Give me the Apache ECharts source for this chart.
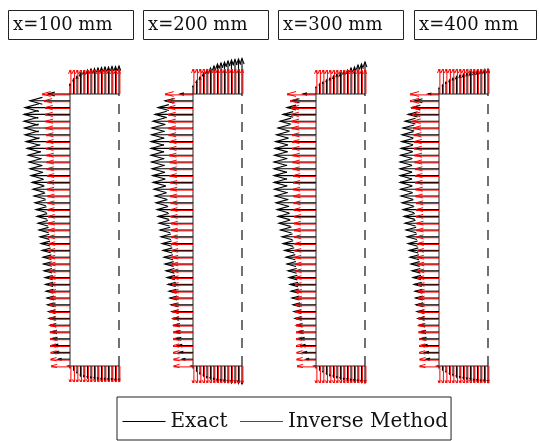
<!DOCTYPE html>
<html>
<head>
<meta charset="utf-8">
<script src="https://cdn.jsdelivr.net/npm/echarts@6/dist/echarts.min.js"></script>
<style>
  html, body { margin: 0; padding: 0; background: #ffffff; }
  #chart { width: 539px; height: 441px; }
</style>
</head>
<body>
<div id="chart"></div>
<script>
// Cross-section stations along the beam
const stations = ['x=100 mm', 'x=200 mm', 'x=300 mm', 'x=400 mm'];

// Section outline (units match the arrow scale)
const webHeight = 272;
const flangeWidth = 49;
const webCount = 41;     // arrows along the web, top to bottom
const flangeCount = 15;  // arrows along each flange, web to free edge

// Top flange arrows (pointing up), web -> free edge
const exactTop100 = [10, 15, 18, 21, 23, 24, 25, 25.5, 26, 26.5, 27, 27, 27.5, 27.5, 28];
const exactTop200 = [8, 13, 17, 21, 24, 26, 28, 30, 31, 32, 33, 34, 34.5, 35, 35.5];
const exactTop300 = [7, 10, 12, 14, 16, 18, 20, 21, 23, 24, 26, 27, 29, 30, 32];
const exactTop400 = [6, 9, 12, 14, 16, 17.5, 19, 20, 21, 22, 22.5, 23, 24, 24.5, 25];
const inverseTop100 = [24, 24, 24, 24, 24, 24, 24, 24, 24, 24, 24, 24, 24, 24, 24];
const inverseTop200 = [25, 25, 25, 25, 25, 25, 25, 25, 25, 25, 25, 25, 25, 25, 25];
const inverseTop300 = [24, 24, 24, 24, 24, 24, 24, 24, 24, 24, 24, 24, 24, 24, 24];
const inverseTop400 = [25, 25, 25, 25, 25, 25, 25, 25, 25, 25, 25, 25, 25, 25, 25];

// Web arrows (pointing left), top -> bottom
const exactWeb100 = [22, 40, 45, 46, 46, 45.5, 45, 44, 43, 42, 41, 40, 39, 38, 37, 36, 35, 34, 33, 32, 31,
  30, 29, 28, 27, 26.5, 26, 25, 24.5, 24, 23, 22.5, 21.5, 21, 20, 19, 18, 17, 15.5, 12, 2];
const exactWeb200 = [13, 28, 35, 38, 40, 41, 41.5, 42, 42, 42, 41.5, 41, 40.5, 40, 39, 38, 37, 36, 35, 34, 33,
  32, 31, 30, 29, 28, 27, 26, 25, 24, 23, 22, 21, 20, 19, 18, 17, 15.5, 14, 11, 2];
const exactWeb300 = [13, 24, 29, 33, 36, 38, 39.5, 40.5, 41, 41.5, 42, 42, 42, 42, 41.5, 41, 40, 39, 38, 37, 35.5,
  34, 33, 31.5, 30, 29, 28, 27, 26, 25, 24, 23, 22, 21, 19.5, 18, 16.5, 15, 13, 10, 2];
const exactWeb400 = [11, 24, 27, 31, 34, 36, 37, 37.5, 38, 38.5, 39, 39, 39, 39, 38.5, 38, 37, 36, 35, 34, 33,
  32, 31, 30, 29, 28, 27, 26, 25, 24, 23.5, 23, 22, 21, 20, 19, 18, 16.5, 14.5, 13, 2];
const inverseWeb100 = [28, 26, 25, 25, 24.5, 24.5, 24, 24, 24, 23.5, 23.5, 23.5, 23, 23, 23, 22.5, 22.5, 22.5, 22, 22, 22,
  22, 21.5, 21.5, 21.5, 21, 21, 21, 21, 20.5, 20.5, 20.5, 20.5, 20, 20, 20, 20, 20, 19.5, 19.5, 19];
const inverseWeb200 = [28, 26, 25.5, 25, 25, 24.5, 24.5, 24, 24, 24, 23.5, 23.5, 23.5, 23, 23, 23, 22.5, 22.5, 22.5, 22, 22,
  22, 22, 21.5, 21.5, 21.5, 21, 21, 21, 21, 20.5, 20.5, 20.5, 20.5, 20, 20, 20, 20, 20, 19.5, 19.5];
const inverseWeb300 = [29, 26, 25, 25, 24.5, 24.5, 24, 24, 24, 23.5, 23.5, 23.5, 23, 23, 23, 22.5, 22.5, 22.5, 22, 22, 22,
  22, 21.5, 21.5, 21.5, 21, 21, 21, 21, 20.5, 20.5, 20.5, 20.5, 20, 20, 20, 20, 20, 19.5, 19.5, 19];
const inverseWeb400 = [29, 29, 28, 27, 26.5, 26, 25.5, 25, 25, 24.5, 24.5, 24, 24, 24, 23.5, 23.5, 23, 23, 23, 22.5, 22.5,
  22.5, 22, 22, 22, 21.5, 21.5, 21.5, 21, 21, 21, 21, 20.5, 20.5, 20.5, 20.5, 20, 20, 20, 19.5, 19.5];

// Bottom flange arrows (pointing down), web -> free edge
const exactBottom100 = [2, 4, 7, 10, 11, 12, 12.5, 13, 13.5, 14, 14, 14.5, 14.5, 15, 15];
const exactBottom200 = [2, 5, 8, 10, 12, 13, 14, 15, 15.5, 16, 16.5, 17, 17, 17.5, 18];
const exactBottom300 = [2, 4, 6, 8, 10, 11, 12, 13, 14, 14.5, 15, 15.5, 16, 16.5, 17];
const exactBottom400 = [2, 4, 6, 8, 9.5, 11, 12, 13, 13.5, 14, 15, 15.5, 16, 16, 16.5];
const inverseBottom100 = [16, 16, 16, 16, 16, 16, 16, 16, 16, 16, 16, 16, 16, 16, 16];
const inverseBottom200 = [17, 17, 17, 17, 17, 17, 17, 17, 17, 17, 17, 17, 17, 17, 17];
const inverseBottom300 = [17, 17, 17, 17, 17, 17, 17, 17, 17, 17, 17, 17, 17, 17, 17];
const inverseBottom400 = [17, 17, 17, 17, 17, 17, 17, 17, 17, 17, 17, 17, 17, 17, 17];

const exactSets = [
  [exactTop100, exactWeb100, exactBottom100],
  [exactTop200, exactWeb200, exactBottom200],
  [exactTop300, exactWeb300, exactBottom300],
  [exactTop400, exactWeb400, exactBottom400]
];
const inverseSets = [
  [inverseTop100, inverseWeb100, inverseBottom100],
  [inverseTop200, inverseWeb200, inverseBottom200],
  [inverseTop300, inverseWeb300, inverseBottom300],
  [inverseTop400, inverseWeb400, inverseBottom400]
];

// Each arrow is [x0, y0, dx, dy, part] in section coordinates (part 0 = web, 1 = flange)
function arrowData(top, web, bottom) {
  const out = [];
  web.forEach((v, i) => out.push([0, webHeight - i * webHeight / (webCount - 1), -v, 0, 0]));
  top.forEach((v, i) => out.push([i * flangeWidth / (flangeCount - 1), webHeight, 0, v, 1]));
  bottom.forEach((v, i) => out.push([i * flangeWidth / (flangeCount - 1), 0, 0, -v, 1]));
  return out;
}

// Quiver-style arrow: shaft plus open head scaled with the arrow length
const HEAD = [
  { len: 0.31, half: 0.085 },  // web quiver
  { len: 0.16, half: 0.06 }    // flange quiver
];
function makeRenderer(shift, width) {
  return function (params, api) {
    const x0 = api.value(0), y0 = api.value(1), dx = api.value(2), dy = api.value(3);
    const head = HEAD[api.value(4)];
    const p0 = api.coord([x0, y0]);
    const p1 = api.coord([x0 + dx, y0 + dy]);
    const vx = p1[0] - p0[0], vy = p1[1] - p0[1];
    const len = Math.sqrt(vx * vx + vy * vy);
    if (len < 0.5) return null;
    const ux = vx / len, uy = vy / len;
    // small sideways offset so overlapping shafts both stay visible
    const ox = Math.abs(uy) > 0.5 ? shift : 0;
    const oy = Math.abs(ux) > 0.5 ? shift : 0;
    const hl = head.len * len, hw = head.half * len;
    const bx = p1[0] - ux * hl, by = p1[1] - uy * hl;
    const color = api.visual('color');
    const style = { stroke: color, fill: null, lineWidth: width };
    return {
      type: 'group',
      children: [
        { type: 'line', shape: { x1: p0[0] + ox, y1: p0[1] + oy, x2: p1[0] + ox, y2: p1[1] + oy }, style: style },
        { type: 'polyline', shape: { points: [[bx - uy * hw, by + ux * hw], [p1[0], p1[1]], [bx + uy * hw, by - ux * hw]] }, style: style }
      ]
    };
  };
}

const webPx = [70, 193, 316, 439];
const titleLeft = [8, 143, 278, 414];
const titleRightPad = [21, 21, 21, 18];

const grids = [], xAxes = [], yAxes = [], titles = [];
// Line-style legend keys for the two methods
const series = [
  { name: 'Exact', type: 'line', data: [], symbol: 'none', xAxisIndex: 0, yAxisIndex: 0,
    itemStyle: { color: '#000000' }, lineStyle: { color: '#000000', width: 1 } },
  { name: 'Inverse Method', type: 'line', data: [], symbol: 'none', xAxisIndex: 0, yAxisIndex: 0,
    itemStyle: { color: '#ff0000' }, lineStyle: { color: '#ff0000', width: 1 } }
];
for (let k = 0; k < 4; k++) {
  grids.push({ left: webPx[k] - 50, top: 56, width: 105, height: 330 });
  xAxes.push({ gridIndex: k, type: 'value', min: -50, max: 55, show: false });
  yAxes.push({ gridIndex: k, type: 'value', min: -20, max: 310, show: false });

  titles.push({
    text: stations[k],
    left: titleLeft[k], top: 10,
    padding: [6, titleRightPad[k], 6, 5],
    borderWidth: 1, borderColor: '#222',
    textStyle: { fontFamily: 'DejaVu Serif', fontSize: 18, fontWeight: 'normal', color: '#111', lineHeight: 18 }
  });

  // Section outline: web, flanges, dashed free edge
  const outline = { type: 'line', xAxisIndex: k, yAxisIndex: k, symbol: 'none', silent: true, z: 1 };
  series.push(Object.assign({}, outline, { data: [[0, 0], [0, webHeight]], lineStyle: { color: '#555', width: 1.3 } }));
  series.push(Object.assign({}, outline, { data: [[0, webHeight], [flangeWidth, webHeight]], lineStyle: { color: '#222', width: 1 } }));
  series.push(Object.assign({}, outline, { data: [[0, 0], [flangeWidth, 0]], lineStyle: { color: '#222', width: 1 } }));
  series.push(Object.assign({}, outline, { data: [[flangeWidth, 0], [flangeWidth, webHeight]], lineStyle: { color: '#111', width: 1.2, type: [10, 8] } }));

  series.push({
    name: 'Exact', type: 'custom', xAxisIndex: k, yAxisIndex: k, z: 2,
    renderItem: makeRenderer(0, 1.1), encode: { x: 0, y: 1 },
    itemStyle: { color: '#000000' },
    data: arrowData.apply(null, exactSets[k])
  });
  series.push({
    name: 'Inverse Method', type: 'custom', xAxisIndex: k, yAxisIndex: k, z: 3,
    renderItem: makeRenderer(0.9, 1), encode: { x: 0, y: 1 },
    itemStyle: { color: '#ff0000' },
    data: arrowData.apply(null, inverseSets[k])
  });
}

const chart = echarts.init(document.getElementById('chart'), null, { renderer: 'canvas' });
chart.setOption({
  animation: false,
  backgroundColor: '#ffffff',
  title: titles,
  grid: grids,
  xAxis: xAxes,
  yAxis: yAxes,
  legend: {
    data: ['Exact', 'Inverse Method'],
    left: 117, top: 397,
    padding: [14.5, 3, 8.5, 5],
    itemWidth: 43, itemHeight: 14, itemGap: 12,
    itemStyle: { opacity: 0 },
    lineStyle: { width: 1 },
    borderWidth: 1, borderColor: '#222',
    selectedMode: false,
    textStyle: { fontFamily: 'DejaVu Serif', fontSize: 20, color: '#111', lineHeight: 20 }
  },
  series: series
});
</script>
</body>
</html>
